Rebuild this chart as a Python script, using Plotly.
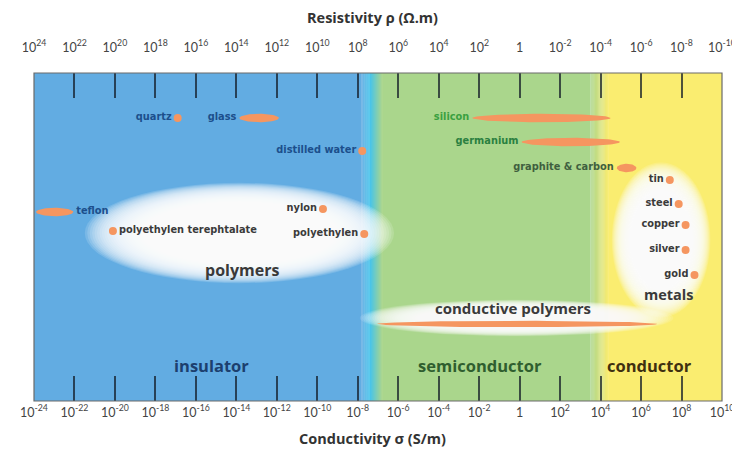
import numpy as np
import plotly.graph_objects as go

# ---------------- data ----------------
# conductivity exponents (log10 of sigma in S/m)
names = ["quartz", "glass", "distilled water", "teflon", "nylon",
         "polyethylen terephtalate", "polyethylen", "silicon", "germanium",
         "graphite & carbon", "tin", "steel", "copper", "silver", "gold",
         "conductive polymers"]
sigma_lo_exp = [-16.9, -13.85, -7.78, -23.9, -9.72, -20.1, -7.68, -2.34, 0.09,
                4.8, 7.42, 7.86, 8.2, 8.2, 8.64, -7.05]
sigma_hi_exp = [-16.9, -11.9, -7.78, -22.06, -9.72, -20.1, -7.68, 4.5, 4.95,
                5.77, 7.42, 7.86, 8.2, 8.2, 8.64, 6.79]
rows = [45, 45, 78, 139, 136, 158, 161, 45, 69, 95, 107, 131, 152, 177, 202, 251]
label_side = ["left", "left", "left", "right", "left", "right", "left", "left",
              "left", "left", "left", "left", "left", "left", "left", "none"]
label_colors = ["#1c4f8c", "#1c4f8c", "#1c4f8c", "#1c4f8c", "#3a3a3a", "#3a3a3a",
                "#3a3a3a", "#3aa040", "#2a8040", "#3f5f3f", "#3a3a3a", "#3a3a3a",
                "#3a3a3a", "#3a3a3a", "#3a3a3a", "#3a3a3a"]

bottom_exps = list(range(-24, 11, 2))
top_exps = list(range(24, -11, -2))

def pow_label(e):
    return "1" if e == 0 else "10<sup>%d</sup>" % e

bottom_text = [pow_label(e) for e in bottom_exps]
top_text = [pow_label(e) for e in top_exps]

# ---------------- figure ----------------
W, H = 740, 450
L, R, T, B = 26, 14, 65, 57
PW, PH = W - L - R, H - T - B

def px(xp):
    return (xp - L) / PW

def py(yp):
    return 1 - (yp - T) / PH

ORANGE = "#f59660"
FONT = "Lato"
BIG = "Open Sans"
SMALL = "DejaVu Sans"

fig = go.Figure()

# background bands (styling)
blue = np.array([98, 172, 226])
cyan = np.array([70, 196, 236])
green = np.array([170, 214, 140])
yellow = np.array([250, 237, 112])

def rgb(c):
    c = np.clip(c, 0, 255).astype(int)
    return "rgb(%d,%d,%d)" % tuple(c)

shapes = []
def band(e0, e1, c):
    shapes.append(dict(type="rect", xref="x", yref="paper", x0=10.0 ** e0, x1=10.0 ** e1,
                       y0=0, y1=1, fillcolor=rgb(c), line=dict(width=0), layer="below"))

band(-24, -7.8, blue)
stops = [(-7.8, blue), (-7.4, cyan), (-6.8, green)]
for (a, ca), (b, cb) in zip(stops[:-1], stops[1:]):
    n = 12
    for i in range(n):
        f = (i + 0.5) / n
        band(a + (b - a) * i / n, a + (b - a) * (i + 1) / n + 0.01, ca + (cb - ca) * f)
band(-6.8, 3.5, green)
n = 20
for i in range(n):
    f = (i + 0.5) / n
    band(3.5 + 0.9 * i / n, 3.5 + 0.9 * (i + 1) / n + 0.01, green + (yellow - green) * f)
band(4.4, 10, yellow)

# soft white glows
def glow(cx, cy, rx, ry, layers=24, op=0.15):
    for i in range(layers):
        s = 1.14 - 0.018 * i
        shapes.append(dict(type="circle", xref="paper", yref="paper",
                           x0=px(cx - rx * s), x1=px(cx + rx * s),
                           y0=py(cy + ry * s), y1=py(cy - ry * s),
                           fillcolor="rgba(255,255,255,%.2f)" % op, line=dict(width=0),
                           layer="below"))

glow(235, 225, 138, 44)
glow(664, 232, 44, 68)
glow(517, 310, 140, 16, op=0.12)

# border
shapes.append(dict(type="rect", xref="paper", yref="paper", x0=0, x1=1, y0=0, y1=1,
                   line=dict(color="#6a6a6a", width=1.2), fillcolor="rgba(0,0,0,0)",
                   layer="above"))

LBL = 9.8
# material marks
for nm, lo, hi, y, side, col in zip(names, sigma_lo_exp, sigma_hi_exp, rows,
                                    label_side, label_colors):
    if hi > lo:
        mid, half = (lo + hi) / 2, (hi - lo) / 2
        h = 3.2 if nm == "conductive polymers" else 4.2
        t = np.linspace(0, 2 * np.pi, 80)
        xs = 10 ** (mid + half * np.cos(t))
        ys = y + h * np.sin(t)
        fig.add_trace(go.Scatter(x=xs, y=ys, mode="lines", fill="toself",
                                 fillcolor=ORANGE, line=dict(width=0),
                                 hoverinfo="skip", showlegend=False))
        if side != "none":
            fig.add_trace(go.Scatter(
                x=[10 ** (lo - 0.15)] if side == "left" else [10 ** (hi + 0.15)],
                y=[y], mode="text", text=[nm],
                textposition="middle left" if side == "left" else "middle right",
                textfont=dict(family=SMALL, size=LBL, color=col, weight=700),
                hoverinfo="skip", showlegend=False))
    else:
        fig.add_trace(go.Scatter(
            x=[10 ** lo], y=[y], mode="markers+text", text=[nm],
            marker=dict(size=8, color=ORANGE),
            textposition="middle left" if side == "left" else "middle right",
            textfont=dict(family=SMALL, size=LBL, color=col, weight=700),
            hoverinfo="skip", showlegend=False))

# top-axis dummy trace
fig.add_trace(go.Scatter(x=[1], y=[0], xaxis="x2", mode="markers",
                         marker=dict(opacity=0), hoverinfo="skip", showlegend=False))

# group / region labels
annos = [
    ("polymers", 238, 262, 16, "#3a3a3a"),
    ("metals", 672, 286, 14.5, "#3a3a3a"),
    ("conductive polymers", 513, 300, 15, "#3a3a3a"),
    ("insulator", 207, 357, 16.5, "#1c3f6e"),
    ("semiconductor", 480, 357, 16.5, "#2f5e2f"),
    ("conductor", 652, 357, 16.5, "#3f3010"),
]
annotations = []
for txt, x, y, s, c in annos:
    annotations.append(dict(text=txt, x=px(x), y=py(y), xref="paper", yref="paper",
                            showarrow=False, xanchor="center", yanchor="middle",
                            font=dict(family=BIG, size=s, color=c, weight=700)))
annotations.append(dict(text="Resistivity ρ (Ω.m)", x=px(370), y=py(10),
                        xref="paper", yref="paper", showarrow=False,
                        xanchor="center", yanchor="middle",
                        font=dict(family=BIG, size=14.5, color="#333333", weight=700)))
annotations.append(dict(text="Conductivity σ (S/m)", x=px(370), y=py(430),
                        xref="paper", yref="paper", showarrow=False,
                        xanchor="center", yanchor="middle",
                        font=dict(family=BIG, size=14.5, color="#333333", weight=700)))

fig.update_layout(
    width=W, height=H,
    margin=dict(l=L, r=R, t=T, b=B),
    paper_bgcolor="white", plot_bgcolor="white",
    shapes=shapes, annotations=annotations,
    xaxis=dict(type="log", range=[-24, 10], tickvals=[10.0 ** e for e in bottom_exps],
               ticktext=bottom_text, ticks="inside", ticklen=25, tickwidth=1.5,
               tickcolor="rgba(20,30,40,0.75)", showgrid=False, zeroline=False,
               showline=False, tickfont=dict(family=FONT, size=12.5, color="#444444"),
               ticklabelstandoff=2),
    xaxis2=dict(type="log", range=[24, -10], overlaying="x", side="top",
                tickvals=[10.0 ** e for e in top_exps], ticktext=top_text,
                ticks="inside", ticklen=25, tickwidth=1.5,
                tickcolor="rgba(20,30,40,0.75)", showgrid=False, zeroline=False,
                showline=False, tickfont=dict(family=FONT, size=12.5, color="#444444"),
                ticklabelstandoff=18),
    yaxis=dict(range=[328, 0], visible=False, showgrid=False, zeroline=False),
)

fig.write_html("out.html")
